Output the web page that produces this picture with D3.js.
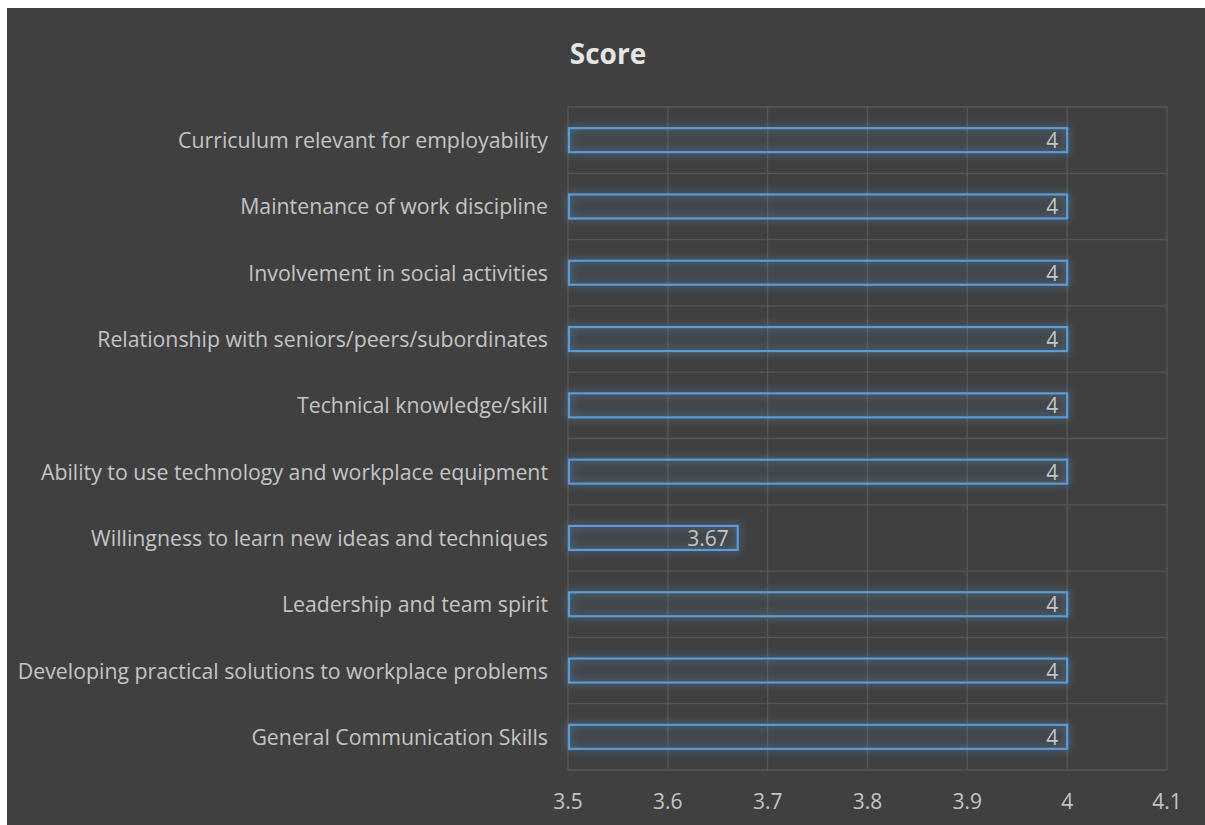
<!DOCTYPE html>
<html>
<head>
<meta charset="utf-8">
<script src="https://cdn.jsdelivr.net/npm/d3@7"></script>
<style>
  body { margin: 0; background: #fff; }
  svg { display: block; }
</style>
</head>
<body>
<div class="container"></div>
<script>
const categories = [
  "Curriculum relevant for employability",
  "Maintenance of work discipline",
  "Involvement in social activities",
  "Relationship with seniors/peers/subordinates",
  "Technical knowledge/skill",
  "Ability to use technology and workplace equipment",
  "Willingness to learn new ideas and techniques",
  "Leadership and team spirit",
  "Developing practical solutions to workplace problems",
  "General Communication Skills"
];
const scores = [4, 4, 4, 4, 4, 4, 3.67, 4, 4, 4];
const xTicks = [3.5, 3.6, 3.7, 3.8, 3.9, 4, 4.1];

const width = 1205, height = 825;
const font = "'Open Sans', 'Noto Sans', sans-serif";
const textColor = "#c4c4c4";

let svg = d3.select(".container").append("svg")
  .attr("width", width)
  .attr("height", height);

// chart background
svg.append("rect")
  .attr("x", 7).attr("y", 8)
  .attr("width", width - 7).attr("height", height - 8)
  .attr("fill", "#404040");

// blue glow round the bars
const defs = svg.append("defs");
const glow = defs.append("filter").attr("id", "glow")
  .attr("x", "-10%").attr("y", "-80%").attr("width", "120%").attr("height", "260%");
glow.append("feGaussianBlur").attr("in", "SourceAlpha").attr("stdDeviation", 4).attr("result", "blur");
glow.append("feFlood").attr("flood-color", "#5b9bd5").attr("flood-opacity", 0.8).attr("result", "col");
glow.append("feComposite").attr("in", "col").attr("in2", "blur").attr("operator", "in").attr("result", "glowc");
let merge = glow.append("feMerge");
merge.append("feMergeNode").attr("in", "glowc");
merge.append("feMergeNode").attr("in", "SourceGraphic");

const margin = {left: 568, right: 1167, top: 107, bottom: 770};

const x = d3.scaleLinear().domain([3.5, 4.1]).range([margin.left, margin.right]);
const y = d3.scaleBand().domain(categories).range([margin.top, margin.bottom]).paddingInner(0).paddingOuter(0);
const barH = 24;

// title
svg.append("text")
  .attr("x", 608).attr("y", 64)
  .attr("text-anchor", "middle")
  .attr("font-family", font)
  .attr("font-size", 28)
  .attr("font-weight", "bold")
  .attr("fill", "#e6e6e6")
  .text("Score");

// gridlines
let grid = svg.append("g").attr("stroke", "#575757").attr("stroke-width", 1.3);
grid.selectAll("line.v")
  .data(xTicks)
  .enter().append("line")
  .attr("x1", d => x(d)).attr("x2", d => x(d))
  .attr("y1", margin.top).attr("y2", margin.bottom);
grid.selectAll("line.h")
  .data(categories.slice(1))
  .enter().append("line")
  .attr("x1", margin.left).attr("x2", margin.right)
  .attr("y1", d => y(d)).attr("y2", d => y(d));
grid.append("line")
  .attr("x1", margin.left).attr("x2", margin.right)
  .attr("y1", margin.top).attr("y2", margin.top);
grid.append("line")
  .attr("x1", margin.left).attr("x2", margin.right)
  .attr("y1", margin.bottom).attr("y2", margin.bottom);

// bars
let bars = svg.append("g");
bars.selectAll("rect")
  .data(categories)
  .enter().append("rect")
  .attr("x", x(3.5) + 1)
  .attr("y", d => y(d) + y.bandwidth() / 2 - barH / 2)
  .attr("width", (d, i) => x(scores[i]) - x(3.5) - 1)
  .attr("height", barH)
  .attr("fill", "rgba(91,155,213,0.04)")
  .attr("stroke", "#5b9bd5")
  .attr("stroke-width", 2.2)
  .attr("filter", "url(#glow)");

// data labels
svg.append("g").selectAll("text")
  .data(categories)
  .enter().append("text")
  .attr("x", (d, i) => x(scores[i]) - 9)
  .attr("y", d => y(d) + y.bandwidth() / 2 + 8)
  .attr("text-anchor", "end")
  .attr("font-family", font)
  .attr("font-size", 21)
  .attr("fill", textColor)
  .text((d, i) => scores[i]);

// category labels
svg.append("g").selectAll("text")
  .data(categories)
  .enter().append("text")
  .attr("x", 548)
  .attr("y", d => y(d) + y.bandwidth() / 2 + 8)
  .attr("text-anchor", "end")
  .attr("font-family", font)
  .attr("font-size", 21.3)
  .attr("fill", textColor)
  .text(d => d);

// x tick labels
svg.append("g").selectAll("text")
  .data(xTicks)
  .enter().append("text")
  .attr("x", d => x(d))
  .attr("y", 809)
  .attr("text-anchor", "middle")
  .attr("font-family", font)
  .attr("font-size", 21)
  .attr("fill", textColor)
  .text(d => d);
</script>
</body>
</html>
